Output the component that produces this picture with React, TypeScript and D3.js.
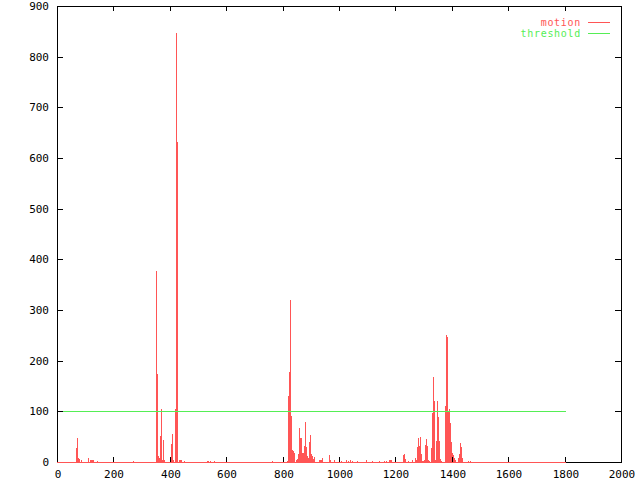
import React from "react";
import * as d3 from "d3";

const motionX = [
  67, 71, 74, 78, 85, 110, 117, 121, 124, 128, 142, 270,
  351, 355, 358, 362, 365, 369, 372, 376, 379,
  404, 408, 411, 418, 422, 426, 433, 436, 440, 450,
  532, 535, 543, 557, 762,
  816, 819, 823, 826, 830, 833, 837, 840, 848, 851, 855, 858, 862, 865, 869, 872,
  876, 879, 883, 887, 890, 894, 897, 901, 904, 908, 911, 929, 933, 936, 940,
  965, 968, 982, 1007, 1025, 1032, 1039, 1046, 1064, 1096, 1117, 1142, 1160, 1167,
  1177, 1181, 1184,
  1227, 1230, 1234, 1245, 1259, 1269, 1273, 1277, 1280, 1284, 1287, 1291, 1294,
  1298, 1301, 1305, 1308, 1312, 1316, 1319, 1326, 1330, 1333, 1337, 1340, 1344,
  1348, 1351, 1355, 1358, 1362, 1376, 1379, 1383, 1387, 1390, 1394, 1397, 1401,
  1404, 1408, 1411, 1422, 1425, 1429, 1433, 1436, 1457, 1464,
];
const motionY = [
  28, 48, 7, 6, 4, 8, 4, 3, 3, 3, 2, 2,
  377, 173, 12, 8, 51, 104, 3, 44, 3,
  35, 56, 3, 104, 846, 632, 3, 3, 3, 2,
  2, 2, 2, 2, 2,
  2, 131, 178, 320, 91, 24, 22, 18, 4, 5, 15, 67, 47, 47, 17, 17,
  32, 78, 30, 12, 7, 40, 53, 16, 12, 5, 9, 3, 4, 4, 7,
  14, 4, 3, 2, 4, 2, 3, 2, 2, 4, 2, 2, 2, 2,
  4, 4, 4,
  13, 15, 6, 2, 4, 8, 4, 30, 48, 32, 50, 16, 1,
  1, 4, 33, 46, 32, 3, 1, 27, 96, 168, 121, 3, 42,
  121, 88, 42, 6, 1, 110, 251, 247, 99, 105, 76, 40, 17,
  13, 7, 3, 8, 16, 37, 30, 7, 2, 2,
];
const thresholdValue = 100;
const seriesEnd = 1800;
const xTicks = [0, 200, 400, 600, 800, 1000, 1200, 1400, 1600, 1800, 2000];
const yTicks = [0, 100, 200, 300, 400, 500, 600, 700, 800, 900];
const seriesNames = ["motion", "threshold"];

const RED = "#ff5555";
const GREEN = "#55ee55";
const FONT = "'DejaVu Sans Mono', monospace";

export default function App() {
  const W = 640, H = 480;
  const left = 57, right = 621, top = 6, bottom = 462;
  const x = d3.scaleLinear().domain([0, 2000]).range([left, right]);
  const y = d3.scaleLinear().domain([0, 900]).range([bottom, top]);
  const px = (v: number) => Math.round(x(v));
  const py = (v: number) => Math.round(y(v));

  return (
    <svg width={W} height={H} style={{ position: "absolute", left: 0, top: 0, background: "#fff" }}>
      <rect x={0} y={0} width={W} height={H} fill="#fff" />
      <g shapeRendering="crispEdges">
        {motionX.map((d, i) => {
          const yy = py(motionY[i]);
          return <rect key={i} x={px(d)} y={yy} width={1} height={bottom + 1 - yy} fill={RED} />;
        })}
      </g>
      <line x1={px(0)} x2={px(seriesEnd) + 1} y1={py(thresholdValue) + 0.5} y2={py(thresholdValue) + 0.5}
        stroke={GREEN} strokeWidth={1} shapeRendering="crispEdges" />
      <g stroke="#000" strokeWidth={1} shapeRendering="crispEdges" fill="none">
        <rect x={left + 0.5} y={top + 0.5} width={right - left} height={bottom - top} />
        {xTicks.map((t) => (
          <g key={"xt" + t}>
            <line x1={px(t) + 0.5} x2={px(t) + 0.5} y1={bottom} y2={bottom - 5} />
            <line x1={px(t) + 0.5} x2={px(t) + 0.5} y1={top} y2={top + 5} />
          </g>
        ))}
        {yTicks.map((t) => (
          <g key={"yt" + t}>
            <line x1={left} x2={left + 6} y1={py(t) + 0.5} y2={py(t) + 0.5} />
            <line x1={right} x2={right - 6} y1={py(t) + 0.5} y2={py(t) + 0.5} />
          </g>
        ))}
      </g>
      <line x1={px(0)} x2={px(seriesEnd) + 1} y1={bottom + 0.5} y2={bottom + 0.5}
        stroke={RED} strokeWidth={1} shapeRendering="crispEdges" />
      <g fontFamily={FONT} fontSize={11} fill="#000">
        {yTicks.map((t) => (
          <text key={"yl" + t} x={49} y={py(t) + 4} textAnchor="end">{t}</text>
        ))}
        {xTicks.map((t) => (
          <text key={"xl" + t} x={px(t) + 1} y={478} textAnchor="middle">{t}</text>
        ))}
      </g>
      <g fontFamily={FONT} fontSize={10} letterSpacing={0.7}>
        {seriesNames.map((n, i) => (
          <g key={n}>
            <text x={581} y={25.5 + i * 11} textAnchor="end" fill={i === 0 ? RED : GREEN}>{n}</text>
            <line x1={588} x2={610} y1={22.5 + i * 11} y2={22.5 + i * 11}
              stroke={i === 0 ? RED : GREEN} strokeWidth={1} shapeRendering="crispEdges" />
          </g>
        ))}
      </g>
    </svg>
  );
}
